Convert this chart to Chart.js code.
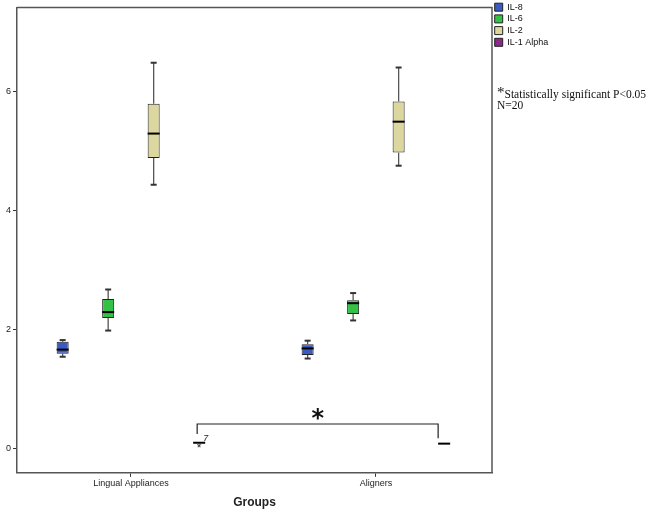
<!DOCTYPE html>
<html>
<head>
<meta charset="utf-8">
<script src="https://cdn.jsdelivr.net/npm/chart.js@4/dist/chart.umd.min.js"></script>
<style>
  body { margin: 0; background: #fff; }
  #wrap { position: relative; width: 650px; height: 510px; }
  #note { position: absolute; left: 497px; top: 89px; font-family: 'Liberation Serif', serif; font-size: 11.5px; line-height: 11px; color: #111; }
  #note .star { font-size: 15px; line-height: 0; position: relative; top: -1px; }
</style>
</head>
<body>
<div id="wrap">
  <canvas id="box-chart" width="650" height="510"></canvas>
  <div id="note"><span class="star">*</span>Statistically significant P&lt;0.05<br>N=20</div>
</div>
<script>
const groups = ['Lingual Appliances', 'Aligners'];
const seriesNames = ['IL-8', 'IL-6', 'IL-2', 'IL-1 Alpha'];
const seriesColors = ['#3b5bc2', '#33c246', '#dbd79e', '#8b2a8b'];

// one row per series, [Lingual Appliances, Aligners]
const whiskerLow  = [[1.55, 1.52], [1.99, 2.16], [4.44, 4.76], [0.10, 0.085]];
const quartile1   = [[1.60, 1.58], [2.20, 2.27], [4.89, 4.98], [0.10, 0.085]];
const medians     = [[1.67, 1.69], [2.30, 2.45], [5.30, 5.50], [0.105, 0.09]];
const quartile3   = [[1.80, 1.76], [2.52, 2.50], [5.80, 5.84], [0.11, 0.095]];
const whiskerHigh = [[1.83, 1.82], [2.68, 2.62], [6.49, 6.41], [0.11, 0.095]];

const outlierSeries = [3];
const outlierGroup = [0];
const outlierValues = [0.05];
const outlierLabels = ['7'];

const yTicks = [0, 2, 4, 6];
// significance bracket between the IL-1 Alpha boxes: left foot, top, right foot
const bracketLeft = 0.25, bracketTop = 0.42, bracketRight = 0.18;

const boxParts = {
  id: 'boxParts',
  afterDatasetsDraw(chart) {
    const ctx = chart.ctx, y = chart.scales.y;
    ctx.save();
    seriesNames.forEach((name, s) => {
      chart.getDatasetMeta(s).data.forEach((bar, g) => {
        const x = bar.x, half = bar.width / 2, cap = 3;
        const pairs = [[quartile3[s][g], whiskerHigh[s][g]], [quartile1[s][g], whiskerLow[s][g]]];
        pairs.forEach(([from, to]) => {
          if (Math.abs(from - to) < 0.001) return;
          ctx.strokeStyle = '#555';
          ctx.lineWidth = 1.3;
          ctx.beginPath();
          ctx.moveTo(x, y.getPixelForValue(from));
          ctx.lineTo(x, y.getPixelForValue(to));
          ctx.stroke();
          ctx.strokeStyle = '#333';
          ctx.lineWidth = 2;
          ctx.beginPath();
          ctx.moveTo(x - cap, y.getPixelForValue(to));
          ctx.lineTo(x + cap, y.getPixelForValue(to));
          ctx.stroke();
        });
        ctx.strokeStyle = '#000';
        ctx.lineWidth = 2;
        ctx.beginPath();
        ctx.moveTo(x - half, y.getPixelForValue(medians[s][g]));
        ctx.lineTo(x + half, y.getPixelForValue(medians[s][g]));
        ctx.stroke();
      });
    });

    // extreme value
    outlierValues.forEach((v, i) => {
      const bar = chart.getDatasetMeta(outlierSeries[i]).data[outlierGroup[i]];
      const py = y.getPixelForValue(v);
      ctx.fillStyle = '#222';
      ctx.textAlign = 'center';
      ctx.textBaseline = 'middle';
      ctx.font = '12px "Liberation Sans"';
      ctx.fillText('*', bar.x, py + 3);
      ctx.font = 'italic 9px "Liberation Sans"';
      ctx.textAlign = 'left';
      ctx.fillText(outlierLabels[i], bar.x + 4, py - 8);
    });

    // bracket
    const meta = chart.getDatasetMeta(3);
    const x1 = meta.data[0].x - 2, x2 = meta.data[1].x - 6;
    ctx.strokeStyle = '#222';
    ctx.lineWidth = 1.2;
    ctx.beginPath();
    ctx.moveTo(x1, y.getPixelForValue(bracketLeft));
    ctx.lineTo(x1, y.getPixelForValue(bracketTop));
    ctx.lineTo(x2, y.getPixelForValue(bracketTop));
    ctx.lineTo(x2, y.getPixelForValue(bracketRight));
    ctx.stroke();
    ctx.fillStyle = '#111';
    ctx.textAlign = 'center';
    ctx.textBaseline = 'middle';
    ctx.font = 'bold 24px "DejaVu Sans"';
    ctx.fillText('*', (x1 + x2) / 2, y.getPixelForValue(bracketTop) - 4);

    // top and right edges of the frame
    const a = chart.chartArea;
    ctx.strokeStyle = '#555';
    ctx.lineWidth = 1.5;
    ctx.beginPath();
    ctx.moveTo(a.left, a.top);
    ctx.lineTo(a.right, a.top);
    ctx.lineTo(a.right, a.bottom);
    ctx.stroke();
    ctx.restore();
  }
};

const legendWidth = {
  id: 'legendWidth',
  beforeUpdate(chart) {
    const lg = chart.legend;
    if (lg && !lg.patched) {
      const fit = lg.fit;
      lg.fit = function () { fit.call(this); this.width = 158; };
      lg.patched = true;
    }
  }
};

new Chart(document.getElementById('box-chart'), {
  type: 'bar',
  data: {
    datasets: seriesNames.map((name, s) => ({
      label: name,
      data: groups.map((g, i) => ({ x: i, y: [quartile1[s][i], quartile3[s][i]] })),
      backgroundColor: seriesColors[s],
      borderColor: '#222',
      borderWidth: 1,
      borderSkipped: false,
      categoryPercentage: 0.743,
      barPercentage: 0.264
    }))
  },
  options: {
    responsive: false,
    animation: false,
    layout: { padding: 0 },
    plugins: {
      tooltip: { enabled: false },
      title: { display: true, text: ' ', fullSize: false, font: { size: 1 }, padding: { top: 2, bottom: 0 } },
      legend: {
        position: 'right',
        align: 'start',
        labels: {
          boxWidth: 8,
          boxHeight: 8,
          padding: 2.7,
          color: '#111',
          font: { family: 'Liberation Sans', size: 9 }
        }
      }
    },
    scales: {
      x: {
        type: 'linear',
        offset: false,
        min: -0.465,
        max: 1.474,
        afterBuildTicks(scale) { scale.ticks = groups.map((g, i) => ({ value: i })); },
        grid: { offset: false, drawOnChartArea: false, tickLength: 4, color: '#333' },
        border: { color: '#555', width: 1.5 },
        ticks: {
          color: '#222',
          padding: 1,
          maxRotation: 0,
          font: { family: 'Liberation Sans', size: 9 },
          callback: v => groups[v]
        },
        title: {
          display: true,
          text: 'Groups',
          color: '#222',
          font: { family: 'Liberation Sans', size: 12, weight: 'bold' },
          padding: { top: 6, bottom: 0 }
        }
      },
      y: {
        min: -0.4,
        max: 7.42,
        afterFit(scale) { scale.width = 17; },
        afterBuildTicks(scale) { scale.ticks = yTicks.map(v => ({ value: v })); },
        grid: { drawOnChartArea: false, tickLength: 4, color: '#333' },
        border: { color: '#555', width: 1.5 },
        ticks: { color: '#222', padding: 2, font: { family: 'Liberation Sans', size: 9 } }
      }
    }
  },
  plugins: [boxParts, legendWidth]
});
</script>
</body>
</html>
